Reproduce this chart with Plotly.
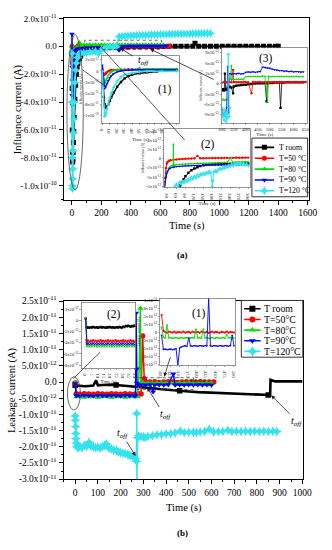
import numpy as np
import plotly.graph_objects as go

W, H = 332, 550
FONT = "Liberation Serif"

C_ROOM, C_50, C_80, C_90, C_120 = "#000000", "#ff0000", "#00dd00", "#0000ff", "#33e3ee"
COLORS = [C_ROOM, C_50, C_80, C_90, C_120]
SYMBOLS = ["square", "circle", "triangle-up", "triangle-down", "star-diamond"]
NAMES_A = ["T room", "T=50 °C", "T=80 °C", "T=90 °C", "T=120 °C"]
NAMES_B = ["T room", "T=50°C", "T=80°C", "T=90°C", "T=120°C"]

# ---------------- Panel (a) main : time (s), current in 1e-11 A ----------------
A_ROOM_T = [0, 1, 2, 3, 4, 5, 6, 8, 10, 12, 15, 20, 25, 30, 35, 40, 50, 60, 73, 84, 100, 130, 160, 200, 250, 300,
            340, 380, 420, 460, 500, 540, 580, 620, 660, 700, 740, 780, 820, 835, 860, 900, 940, 980, 1020, 1060,
            1100, 1140, 1180, 1220, 1260, 1300, 1340, 1380, 1400]
A_ROOM_V = [-0.5, -3.0, -6.0, -7.6, -8.2, -8.3, -8.1, -7.6, -6.9, -6.1, -5.1, -3.8, -2.8, -2.0, -1.5, -1.2, -0.9,
            -0.7, -0.5, -0.37, -0.26, -0.17, -0.12, -0.10, -0.09, -0.08, -0.05, -0.04, -0.03, -0.03, -0.02, -0.02,
            -0.01, -0.01, 0.0, 0.0, 0.0, 0.0, 0.0, 0.22, 0.0, 0.0, 0.0, 0.0, 0.0, 0.0, 0.0, 0.0, 0.0, 0.0, 0.0,
            0.0, 0.0, 0.0, 0.0]
A_50_T = [0, 1, 2, 3, 4, 5, 6, 8, 10, 12, 15, 20, 25, 30, 35, 40, 50, 60, 80, 100, 120, 140, 160, 180, 200, 220,
          240, 260, 280, 300, 320, 340, 360, 380, 400, 420, 440, 460, 480, 500, 520, 540, 560, 580, 600, 620, 640, 660]
A_50_V = [0.0, -0.6, -1.1, -1.25, -1.1, -0.9, -0.7, -0.45, -0.3, -0.22, -0.17, -0.15, -0.12, -0.1, -0.05, -0.02,
          -0.01, 0.0, 0.01, 0.0, 0.02, 0.01, 0.0, 0.01, 0.02, 0.0, 0.01, 0.01, 0.0, 0.02, 0.01, 0.0, 0.01, 0.02,
          0.01, 0.0, 0.01, 0.02, 0.01, 0.0, 0.01, 0.02, 0.01, 0.01, 0.0, 0.02, 0.01, 0.0]
A_80_T = [0, 1, 2, 3, 4, 5, 6, 8, 10, 12, 15, 20, 25, 30, 35, 40, 45, 50, 52, 55, 60, 80, 100, 120, 140, 160, 180,
          200, 220, 240, 260, 280, 300, 320, 340, 360, 380, 400, 420, 440, 460, 480, 500, 520, 540, 560, 580, 600, 620]
A_80_V = [0.0, -1.0, -2.3, -3.0, -2.8, -2.4, -2.0, -1.4, -0.9, -0.6, -0.35, -0.2, -0.15, -0.12, -0.1, -0.1, -0.1,
          0.28, -0.15, -0.08, 0.1, 0.11, 0.1, 0.12, 0.1, 0.11, 0.1, 0.12, 0.11, 0.1, 0.12, 0.1, 0.11, 0.1, 0.12,
          0.11, 0.1, 0.12, 0.1, 0.11, 0.1, 0.12, 0.11, 0.1, 0.12, 0.1, 0.11, 0.1, 0.12]
A_90_T = [0, 1, 2, 3, 4, 5, 6, 8, 10, 12, 15, 20, 25, 30, 35, 40, 50, 60, 80, 100, 120, 140, 160, 180, 200, 220,
          240, 260, 280, 300, 320, 340, 360, 380, 400, 420, 440, 460, 480, 500, 520, 540, 560, 580, 600, 620, 640]
A_90_V = [0.88, -1.5, -3.5, -4.2, -4.0, -3.6, -3.2, -2.5, -1.9, -1.5, -1.0, -0.6, -0.36, -0.28, -0.2, -0.17, -0.15,
          -0.14, -0.13, -0.12, -0.12, -0.11, -0.11, -0.1, -0.1, -0.1, -0.09, -0.09, -0.09, -0.08, -0.28,
          0.0, 0.01, 0.02, 0.02, 0.01, 0.02, 0.03, 0.03, 0.03, 0.02, 0.03, 0.02, 0.03, 0.02, 0.02, 0.03]
A_120_T = [0, 1, 2, 3, 4, 5, 6, 8, 10, 12, 15, 20, 25, 30, 40, 50, 60, 80, 100, 120, 140, 160, 180, 200, 220, 240,
           260, 280, 300, 320, 340, 360, 380, 400, 420, 440, 460, 480, 500, 520, 540, 560, 580, 600, 620, 640, 660,
           680, 700, 720, 740, 760, 780, 800, 820, 840, 860, 880, 900, 920, 940]
A_120_V = [-0.5, -4.0, -8.0, -10.2, -10.0, -9.5, -8.8, -7.5, -6.2, -5.2, -4.0, -2.6, -1.7, -1.2, -0.8, -0.6, -0.5,
           -0.48, -0.45, -0.42, -0.38, -0.36, -0.5, -0.25, -0.15, -0.1, -0.06, -0.04, -0.03,
           0.70, 0.72, 0.74, 0.75, 0.76, 0.77, 0.78, 0.79, 0.80, 0.81, 0.82, 0.83, 0.84, 0.84, 0.85, 0.86, 0.86,
           0.87, 0.88, 0.88, 0.89, 0.89, 0.90, 0.90, 0.91, 0.91, 0.92, 0.92, 0.92, 0.93, 0.93, 0.93]

# ---------------- Panel (a) inset (2): 1e-12 A ----------------
I2A_ROOM_T = [60, 65, 70, 73, 78, 84, 90, 100, 110, 120, 130, 140, 150, 160, 170, 180, 190, 200, 210, 220, 230,
              240, 250, 260, 270, 280, 290, 300]
I2A_ROOM_V = [-7.0, -6.2, -5.3, -4.8, -4.2, -3.7, -3.2, -2.55, -2.1, -1.8, -1.55, -1.35, -1.2, -1.12, -1.07, -1.03,
              -1.0, -0.98, -0.96, -0.95, -0.94, -0.93, -0.92, -0.91, -0.9, -0.9, -0.89, -0.88]
I2A_50_T = [20, 22, 25, 28, 30, 35, 40, 50, 60, 70, 80, 90, 100, 110, 120, 130, 140, 150, 160, 170, 180, 190, 200,
            210, 220, 230, 240, 250, 260, 270, 280, 290, 300]
I2A_50_V = [-5.5, -3.5, -1.7, -0.9, -0.6, -0.4, -0.3, -0.2, -0.15, -0.1, -0.05, -0.03, 0.0, 0.02, 0.04, 0.5, 0.06,
            0.07, 0.08, 0.09, 0.1, 0.1, 0.11, 0.12, 0.12, 0.13, 0.14, 0.14, 0.15, 0.15, 0.16, 0.17, 0.18]
I2A_80_T = [20, 25, 30, 35, 40, 45, 49, 50, 51, 55, 60, 70, 80, 90, 100, 110, 120, 130, 140, 150, 160, 170, 180,
            190, 200, 210, 220, 230, 239, 250, 260, 270, 280, 290, 300]
I2A_80_V = [-4.8, -3.2, -2.2, -1.7, -1.4, -1.25, -1.2, 2.6, -1.5, -1.15, -1.1, -1.05, -1.0, -0.98, -0.95, -0.93,
            -0.9, -0.88, -0.86, -0.84, -0.82, -0.8, -0.78, -0.76, -0.74, -0.72, -0.7, -0.68, 0.1, -0.64, -0.62,
            -0.6, -0.58, -0.56, -0.54]
I2A_90_T = [20, 22, 25, 28, 30, 35, 40, 50, 60, 70, 80, 90, 100, 110, 120, 130, 140, 150, 160, 170, 180, 190, 200,
            210, 220, 230, 240, 250, 260, 270, 280, 290, 300]
I2A_90_V = [-5.5, -4.2, -3.4, -2.6, -2.3, -1.9, -1.7, -1.55, -1.45, -1.4, -1.35, -1.3, -1.28, -1.26, -1.25, -1.23,
            -1.22, -1.2, -1.19, -1.18, -1.17, -1.16, -1.15, -1.15, -1.14, -1.13, -1.13, -1.12, -1.12, -1.11, -1.11,
            -1.1, -1.1]
I2A_120_T = [55, 60, 65, 70, 75, 80, 85, 90, 95, 100, 105, 110, 115, 120, 125, 130, 135, 140, 145, 150, 155, 160,
             165, 170, 175, 180, 182, 185, 190, 195, 200, 205, 210, 215, 220, 225, 230, 235, 240, 245, 250, 255,
             260, 265, 270, 275, 280, 285, 290, 295, 300]
I2A_120_V = [-5.0, -4.6, -4.9, -4.3, -4.6, -4.1, -4.4, -3.9, -4.2, -3.7, -3.9, -3.4, -3.7, -3.2, -3.5, -3.0, -3.3,
             -2.8, -3.0, -2.6, -2.9, -2.5, -2.7, -2.3, -2.6, -5.0, -4.0, -2.4, -2.2, -2.4, -2.0, -1.8, -2.0, -1.6,
             -1.8, -1.4, -1.6, -1.2, -1.4, -1.0, -1.3, -0.9, -1.1, -0.7, -1.0, -0.8, -1.1, -0.9, -1.2, -1.0, -1.3]

# ---------------- Panel (a) inset (3): 1e-13 A ----------------
I3A_ROOM_T = [300, 305, 310, 313, 316, 320, 325, 330, 333, 340, 347, 350, 360, 370, 380, 390, 400, 410, 420, 430,
              440, 450, 460, 470, 480, 487, 490, 500, 510, 520, 530, 540, 545, 550, 560, 570, 580, 590, 600, 610,
              620, 630, 640]
I3A_ROOM_V = [-1.9, -1.6, -2.0, 2.9, -1.5, -1.8, -1.2, -1.0, -0.9, -1.1, -2.8, -0.8, -0.6, -0.5, -0.4, -0.3, -0.3,
              -0.2, -0.1, 0.0, 0.0, 0.1, 0.1, 0.1, 0.2, -5.1, 0.2, 0.2, 0.2, 0.3, 0.3, 0.3, -7.0, 0.3, 0.3, 0.4,
              0.4, 0.4, 0.4, 0.4, 0.4, 0.4, 0.4]
I3A_50_T = [300, 310, 320, 330, 340, 347, 350, 360, 370, 380, 390, 400, 410, 424, 430, 440, 450, 460, 470, 480,
            490, 500, 510, 520, 530, 540, 550, 560, 570, 580, 590, 600, 610, 620, 630, 640, 650]
I3A_50_V = [0.3, 0.5, 0.4, 0.5, 0.4, 4.0, 0.5, 0.4, 0.5, 0.4, 0.5, 0.5, 0.4, -2.8, 0.5, 0.4, 0.5, 0.5, 0.4, 0.5,
            0.5, 0.4, 0.5, 0.5, 0.4, 0.5, 0.5, 0.4, 0.5, 0.5, 0.4, 0.5, 0.5, 0.4, 0.5, 0.5, 0.5]
I3A_80_T = [300, 305, 310, 315, 320, 325, 330, 335, 340, 343, 350, 360, 370, 380, 390, 400, 410, 420, 430, 440,
            450, 460, 470, 480, 491, 495, 500, 510, 520, 530, 540, 550, 560, 570, 580, 590, 600, 610, 620, 630, 640]
I3A_80_V = [-4.8, -4.5, -4.9, -4.6, -4.7, -4.4, 1.2, 1.3, 5.2, 1.2, 1.2, 1.3, 1.2, 1.3, 1.2, 2.0, 2.1, 2.0, 2.1,
            2.0, 2.1, 2.0, 2.2, 2.1, -5.4, 2.1, 2.0, 2.1, 2.0, 2.1, 2.0, 2.1, 2.0, 2.1, 2.0, 2.1, 2.0, 2.1, 2.0,
            2.1, 2.0]
I3A_90_T = [300, 305, 310, 315, 320, 325, 328, 330, 340, 350, 360, 370, 380, 390, 400, 410, 420, 430, 440, 450,
            460, 470, 480, 490, 500, 510, 520, 530, 540, 550, 560, 570, 580, 590, 600, 610, 620, 630, 640]
I3A_90_V = [-7.5, -9.0, -8.0, -9.5, -7.0, 5.0, -8.5, 2.9, 2.8, 2.9, 2.8, 3.0, 2.8, 2.9, 3.3, 3.4, 3.3, 3.4, 3.3,
            3.4, 3.5, 4.8, 4.7, 4.6, 4.5, 4.2, 4.0, 3.9, 3.8, 3.8, 3.6, 3.7, 3.5, 3.6, 3.4, 3.5, 3.4, 3.3, 3.4]
I3A_120_T = [300, 303, 306, 309, 312, 315, 318, 321, 324, 327, 330, 333]
I3A_120_V = [-7.0, -9.5, -8.0, -10.5, -7.5, -9.0, -11.0, -8.5, -10.0, 8.5, -9.5, -7.0]

# ---------------- Panel (b) main : 1e-12 A ----------------
B_ROOM_T = [0, 20, 40, 60, 80, 92, 100, 120, 140, 160, 180, 200, 220, 240, 260, 280, 300, 340, 380, 420, 460, 500,
            540, 580, 620, 660, 700, 740, 780, 820, 850, 858, 860, 880, 900, 920, 940, 960, 980, 1000]
B_ROOM_V = [-1.0, -1.2, -1.3, -1.2, -1.1, 0.5, -1.0, -0.9, -0.8, -0.8, -0.9, -1.0, -1.1, -1.2, -1.3, -1.5, -1.6,
            -1.9, -2.2, -2.5, -2.7, -2.9, -3.1, -3.2, -3.4, -3.5, -3.6, -3.7, -3.8, -3.9, -4.0, -4.0, 0.7, 0.2,
            0.2, 0.2, 0.2, 0.2, 0.2, 0.2]
B_50_T = [0, 5, 20, 40, 60, 80, 100, 120, 140, 160, 180, 200, 220, 240, 260, 280, 290, 297, 304, 310, 330, 350,
          370, 390, 410, 430, 450, 470, 490, 510, 530, 550, 570, 590, 610]
B_50_V = [-0.3, -3.6, -3.8, -3.6, -3.7, -3.8, -3.6, -3.7, -3.8, -3.6, -3.7, -3.8, -3.6, -3.7, -3.8, -3.6, -3.7,
          14.2, 1.0, 0.1, 0.0, 0.1, -0.1, 0.0, 0.1, 0.0, -0.1, 0.0, 0.1, 0.0, 0.0, 0.1, 0.0, 0.0, 0.0]
B_80_T = [0, 5, 20, 40, 60, 80, 100, 120, 140, 160, 180, 200, 220, 240, 260, 275, 282, 287, 290, 300, 320, 340,
          360, 380, 400, 420, 440, 460, 480, 500, 520, 540, 560, 580, 600]
B_80_V = [-0.2, -4.6, -4.5, -4.7, -4.6, -4.5, -4.7, -4.6, -4.5, -4.7, -4.6, -4.5, -4.7, -4.6, -4.5, -4.6, 4.2,
          22.8, -0.3, -0.2, -0.3, -0.2, -0.3, -0.2, -0.3, -0.2, -0.3, -0.2, -0.3, -0.2, -0.3, -0.2, -0.3, -0.2, -0.3]
B_90_T = [0, 5, 20, 40, 60, 80, 100, 120, 140, 160, 180, 200, 220, 240, 260, 266, 268, 270, 272, 276, 290, 310,
          330, 343, 350, 370, 390, 410, 432, 440, 460, 480, 500, 520, 540, 560, 580, 600]
B_90_V = [-0.5, -4.2, -4.3, -4.1, -4.2, -4.3, -4.1, -4.2, -4.3, -4.1, -4.2, -4.3, -4.1, -4.2, -4.3, -4.2, 21.3,
          4.0, -0.3, -0.9, -0.8, -0.9, -0.8, -3.0, -0.9, -0.8, -0.9, -0.8, 2.5, -0.9, -0.8, -0.9, -0.8, -0.9,
          -0.8, -0.9, -0.8, -0.9]
B_120_T = [0, 1, 2, 3, 4, 5, 8, 11, 15, 20, 30, 40, 50, 61, 70, 80, 90, 100, 110, 120, 130, 138, 150, 160, 170,
           181, 190, 200, 210, 220, 230, 237, 245, 255, 265, 270, 271, 272, 275, 280, 290, 300, 308, 320, 340, 360,
           380, 400, 420, 440, 463, 480, 500, 520, 534, 550, 570, 590, 610, 630, 650, 672, 690, 710, 730, 750, 770,
           790, 810, 830, 850, 870, 887]
B_120_V = [-10.5, -11.8, -13.7, -15.9, -17.5, -18.8, -19.8, -20.3, -20.0, -19.9, -20.3, -19.6, -19.9, -18.6,
           -19.8, -20.0, -20.3, -20.1, -20.4, -20.0, -19.5, -19.1, -20.5, -20.7, -21.0, -21.1, -21.5, -21.8, -22.0,
           -22.1, -22.3, -22.6, -22.8, -23.1, -23.6, -24.5, -9.7, -31.0, -17.2, -16.6, -16.9, -17.0, -17.1, -16.8,
           -16.6, -16.3, -16.2, -16.0, -15.9, -15.7, -15.1, -15.6, -15.5, -15.5, -15.6, -15.4, -15.3, -14.6, -15.4,
           -15.3, -15.3, -14.9, -15.3, -15.2, -15.3, -15.2, -15.3, -15.2, -15.3, -15.2, -15.3, -15.2, -15.3]

# ---------------- Panel (b) inset (2): 0-40 s, 1e-12 A ----------------
I2B_T = [0, 0.5, 1, 2, 3, 4, 5, 6, 7, 8, 9, 10, 11, 12, 13, 14, 15, 16, 17, 18, 19, 20, 21, 22, 23, 24, 25, 26,
         27, 28, 29, 30, 31, 32, 33, 34, 35, 36, 37, 38, 39, 40]
I2B_ROOM_V = [0.3, -1.2, -1.3, -1.25, -1.35, -1.2, -1.3, -1.15, -1.25, -1.3, -1.2, -1.35, -1.25, -1.15, -1.3, -1.2,
              -1.25, -1.35, -1.2, -1.3, -1.15, -1.25, -1.3, -1.2, -1.35, -1.25, -1.2, -1.3, -1.15, -1.25, -1.3,
              -1.1, -1.2, -1.0, -1.1, -0.95, -1.05, -1.15, -1.0, -1.1, -0.95, -1.0]
I2B_50_V = [0.4, -3.5, -3.8, -3.6, -3.85, -3.6, -3.8, -3.55, -3.8, -3.6, -3.85, -3.6, -3.8, -3.55, -3.8, -3.6,
            -3.85, -3.6, -3.8, -3.55, -3.8, -3.6, -3.85, -3.6, -3.8, -3.55, -3.8, -3.6, -3.85, -3.6, -3.8, -3.55,
            -3.8, -3.6, -3.85, -3.6, -3.8, -3.55, -3.8, -3.6, -3.85, -3.6]
I2B_80_V = [0.5, -4.4, -4.7, -4.5, -4.75, -4.5, -4.7, -4.45, -4.7, -4.5, -4.75, -4.5, -4.7, -4.45, -4.7, -4.5,
            -4.75, -4.5, -4.7, -4.45, -4.7, -4.5, -4.75, -4.5, -4.7, -4.45, -4.7, -4.5, -4.75, -4.5, -4.7, -4.45,
            -4.7, -4.5, -4.75, -4.5, -4.7, -4.45, -4.7, -4.5, -4.75, -4.5]
I2B_90_V = [0.2, -4.0, -4.3, -4.1, -4.35, -4.1, -4.3, -4.05, -4.3, -4.1, -4.35, -4.1, -4.3, -4.05, -4.3, -4.1,
            -4.35, -4.1, -4.3, -4.05, -4.3, -4.1, -4.35, -4.1, -4.3, -4.05, -4.3, -4.1, -4.35, -4.1, -4.3, -4.05,
            -4.3, -4.1, -4.35, -4.1, -4.3, -4.05, -4.3, -4.1, -4.35, -4.1]

# ---------------- Panel (b) inset (1): 300-500 s, 1e-12 A ----------------
I1B_T = [300, 305, 310, 315, 320, 325, 330, 335, 340, 345, 350, 355, 360, 365, 370, 375, 380, 385, 390, 395, 400,
         405, 410, 415, 420, 425, 430, 435, 440, 445, 450, 455, 460, 465, 470, 475, 480, 485, 490, 495, 500]
I1B_50_V = [5.4, 0.4, 0.1, -0.2, 0.2, 0.0, -0.1, 0.2, -0.2, 0.1, 0.0, -0.1, 0.2, -0.1, 0.0, 0.1, -0.2, 0.2, 0.0,
            -0.1, 0.1, -0.2, 0.2, 0.0, -0.1, 0.1, -0.2, 0.0, 0.2, -0.1, 0.1, 0.0, -0.2, 0.1, 0.0, -0.1, 0.2, -0.2,
            0.1, 0.0, -0.1]
I1B_80_V = [1.5, -1.6, -1.9, 2.3, -1.8, -1.7, -1.9, -1.8, -1.7, -1.9, -1.8, -1.7, -1.9, -1.8, -1.7, -1.9, -1.8,
            -1.7, -1.9, 1.0, -1.8, -1.7, -1.9, 1.0, -1.8, -1.7, -1.9, -1.8, -1.7, -1.9, -1.8, -1.7, -1.9, -1.8,
            -1.7, -1.9, -0.8, -1.8, -1.7, -1.9, -1.8]
I1B_90_V = [-1.0, -5.4, -5.3, -5.5, -5.4, -5.3, -5.5, -5.4, -5.2, -10.5, -4.9, -4.6, -4.4, -4.3, -4.4, -1.8, -4.3,
            -4.4, -4.2, -4.3, -4.4, -4.2, -4.3, -4.4, -4.2, -4.3, 11.0, -4.3, -4.4, -4.2, -4.3, -4.4, -4.2, -4.3,
            -4.4, -4.2, -4.3, -4.4, -4.2, -1.0, -4.3]

# ---------------- tick labels ----------------
A_YTICK_VALS = [2e-11, 0, -2e-11, -4e-11, -6e-11, -8e-11, -1e-10]
A_YTICK_TEXT = ["2.0x10<sup>-11</sup>", "0.0", "-2.0x10<sup>-11</sup>", "-4.0x10<sup>-11</sup>",
                "-6.0x10<sup>-11</sup>", "-8.0x10<sup>-11</sup>", "-1.0x10<sup>-10</sup>"]
B_YTICK_VALS = [2.5e-11, 2e-11, 1.5e-11, 1e-11, 5e-12, 0, -5e-12, -1e-11, -1.5e-11, -2e-11, -2.5e-11, -3e-11]
B_YTICK_TEXT = ["2.5x10<sup>-11</sup>", "2.0x10<sup>-11</sup>", "1.5x10<sup>-11</sup>", "1.0x10<sup>-11</sup>",
                "5.0x10<sup>-12</sup>", "0.0", "-5.0x10<sup>-12</sup>", "-1.0x10<sup>-11</sup>",
                "-1.5x10<sup>-11</sup>", "-2.0x10<sup>-11</sup>", "-2.5x10<sup>-11</sup>", "-3.0x10<sup>-11</sup>"]
I1A_YTICK_VALS = [2e-11, -0.4e-11, -2.8e-11, -5.2e-11, -7.6e-11, -1e-10]
I1A_YTICK_TEXT = ["2x10<sup>-11</sup>", "0", "-3x10<sup>-11</sup>", "-5x10<sup>-11</sup>",
                  "-8x10<sup>-11</sup>", "-1x10<sup>-10</sup>"]
I2A_YTICK_VALS = [5e-12, 3.333e-12, 1.667e-12, 0, -1.667e-12, -3.333e-12, -5e-12]
I2A_YTICK_TEXT = ["5x10<sup>-12</sup>", "3x10<sup>-12</sup>", "2x10<sup>-12</sup>", "0",
                  "-2x10<sup>-12</sup>", "-3x10<sup>-12</sup>", "-5x10<sup>-12</sup>"]
I3A_YTICK_VALS = [9e-13, 6e-13, 3e-13, 0, -3e-13, -6e-13, -9e-13]
I3A_YTICK_TEXT = ["9x10<sup>-13</sup>", "6x10<sup>-13</sup>", "3x10<sup>-13</sup>", "0",
                  "-3x10<sup>-13</sup>", "-6x10<sup>-13</sup>", "-9x10<sup>-13</sup>"]
I2B_YTICK_VALS = [2e-12, 0, -2e-12, -4e-12, -6e-12, -8e-12]
I2B_YTICK_TEXT = ["2x10<sup>-12</sup>", "0", "-2x10<sup>-12</sup>", "-4x10<sup>-12</sup>",
                  "-6x10<sup>-12</sup>", "-8x10<sup>-12</sup>"]
I1B_YTICK_VALS = [1e-11, 7.5e-12, 5e-12, 2.5e-12, 0, -2.5e-12, -5e-12, -7.5e-12, -1e-11]
I1B_YTICK_TEXT = ["1x10<sup>-11</sup>", "8x10<sup>-12</sup>", "5x10<sup>-12</sup>", "3x10<sup>-12</sup>", "0",
                  "-3x10<sup>-12</sup>", "-5x10<sup>-12</sup>", "-8x10<sup>-12</sup>", "-1x10<sup>-11</sup>"]

for t, v in [(A_ROOM_T, A_ROOM_V), (A_50_T, A_50_V), (A_80_T, A_80_V), (A_90_T, A_90_V), (A_120_T, A_120_V),
             (I2A_ROOM_T, I2A_ROOM_V), (I2A_50_T, I2A_50_V), (I2A_80_T, I2A_80_V), (I2A_90_T, I2A_90_V),
             (I2A_120_T, I2A_120_V), (I3A_ROOM_T, I3A_ROOM_V), (I3A_50_T, I3A_50_V), (I3A_80_T, I3A_80_V),
             (I3A_90_T, I3A_90_V), (I3A_120_T, I3A_120_V), (B_ROOM_T, B_ROOM_V), (B_50_T, B_50_V),
             (B_80_T, B_80_V), (B_90_T, B_90_V), (B_120_T, B_120_V), (I2B_T, I2B_ROOM_V), (I2B_T, I2B_50_V),
             (I2B_T, I2B_80_V), (I2B_T, I2B_90_V), (I1B_T, I1B_50_V), (I1B_T, I1B_80_V), (I1B_T, I1B_90_V)]:
    assert len(t) == len(v), (len(t), len(v), t[:3])

# ---------------- figure ----------------
fig = go.Figure()
layout = {}


def PX(x):
    return x / W


def PY(y):
    return 1 - y / H


def set_axes(n, box, xr, yr, xkw, ykw):
    x0, x1, y0, y1 = box
    xs = "" if n == 1 else str(n)
    layout["xaxis" + xs] = dict(domain=[PX(x0), PX(x1)], range=xr, anchor="y" + xs, autorange=False, **xkw)
    layout["yaxis" + xs] = dict(domain=[PY(y1), PY(y0)], range=yr, anchor="x" + xs, autorange=False, **ykw)


def main_ax(fs):
    return dict(showline=True, linecolor="black", linewidth=1, mirror=True, ticks="outside", ticklen=4,
                tickwidth=1, tickcolor="black", showgrid=False, zeroline=False,
                tickfont=dict(family=FONT, size=fs, color="black"))


def inset_ax(fs=5):
    return dict(showline=True, linecolor="#666", linewidth=0.7, mirror=True, ticks="outside", ticklen=1.5,
                tickwidth=0.6, tickcolor="#666", showgrid=False, zeroline=False,
                tickfont=dict(family=FONT, size=fs, color="#222"))


def leg_ax():
    return dict(visible=False, showgrid=False, zeroline=False, fixedrange=True)


def ttl(text, size):
    return dict(text=text, font=dict(family=FONT, size=size, color="#222"), standoff=1)


# (a) main
set_axes(1, (62, 317, 11.7, 197), [-57, 1606], [-1.1e-10, 2.0e-11],
         dict(main_ax(9.5), tickmode="linear", tick0=0, dtick=200,
              minor=dict(ticks="outside", ticklen=2, tickmode="linear", tick0=0, dtick=100, tickcolor="black")),
         dict(main_ax(9), tickmode="array", tickvals=A_YTICK_VALS, ticktext=A_YTICK_TEXT,
              minor=dict(ticks="outside", ticklen=2, tickmode="linear", tick0=0, dtick=1e-11, tickcolor="black")))
# (a) inset 1
set_axes(2, (101.7, 182.3, 50, 118.3), [-0.8, 103], [-1.16e-10, 2.85e-11],
         dict(inset_ax(5), tickmode="linear", tick0=0, dtick=10, title=ttl("Time (s)", 5)),
         dict(inset_ax(4.6), tickmode="array", tickvals=I1A_YTICK_VALS, ticktext=I1A_YTICK_TEXT,
              title=ttl("Influence current (A)", 3.6)))
# (a) inset 2
set_axes(3, (166.7, 256, 124.5, 184.3), [19, 306], [-5.18e-12, 5.39e-12],
         dict(inset_ax(5), tickmode="linear", tick0=30, dtick=30, title=ttl("Time (s)", 5)),
         dict(inset_ax(4.6), tickmode="array", tickvals=I2A_YTICK_VALS, ticktext=I2A_YTICK_TEXT,
              title=ttl("Influence current (A)", 3.6)))
# (a) inset 3
set_axes(4, (226.7, 316, 42, 118.3), [300, 658], [-11.3e-13, 10.3e-13],
         dict(inset_ax(5), tickmode="linear", tick0=300, dtick=50, title=ttl("Time (s)", 5)),
         dict(inset_ax(4.6), tickmode="array", tickvals=I3A_YTICK_VALS, ticktext=I3A_YTICK_TEXT,
              title=ttl("Influence current (A)", 3.6)))
# (a) legend box
set_axes(5, (258, 316, 134, 194), [258, 316], [194, 134], leg_ax(), leg_ax())
# (b) main
set_axes(6, (62, 311, 300.7, 482.7), [-51, 1002], [-3e-11, 2.5e-11],
         dict(main_ax(9.5), tickmode="linear", tick0=0, dtick=100,
              minor=dict(ticks="outside", ticklen=2, tickmode="linear", tick0=0, dtick=50, tickcolor="black")),
         dict(main_ax(9.5), tickmode="array", tickvals=B_YTICK_VALS, ticktext=B_YTICK_TEXT,
              minor=dict(ticks="outside", ticklen=2, tickmode="linear", tick0=0, dtick=2.5e-12, tickcolor="black")))
# (b) inset 2
set_axes(7, (80.7, 137, 302, 369), [-3.3, 40], [-8.5e-12, 3.2e-12],
         dict(inset_ax(4.6), tickmode="linear", tick0=0, dtick=5, title=ttl("Time (s)", 4.6)),
         dict(inset_ax(4.6), tickmode="array", tickvals=I2B_YTICK_VALS, ticktext=I2B_YTICK_TEXT))
# (b) inset 1
set_axes(8, (162.5, 240.5, 298, 366), [296, 503], [-10.3e-12, 10.6e-12],
         dict(inset_ax(4.8), tickmode="linear", tick0=300, dtick=25, title=ttl("Time (s)", 4.6)),
         dict(inset_ax(4.6), tickmode="array", tickvals=I1B_YTICK_VALS, ticktext=I1B_YTICK_TEXT,
              title=ttl("Leakage current (A)", 3.6)))
# (b) legend box
set_axes(9, (247, 311, 300, 358), [247, 311], [358, 300], leg_ax(), leg_ax())


def add(t, v, scale, i, ax, size, lw, **mk):
    xs = "" if ax == 1 else str(ax)
    fig.add_trace(go.Scatter(x=np.asarray(t, dtype=float), y=np.asarray(v, dtype=float) * scale,
                             mode="lines+markers", xaxis="x" + xs, yaxis="y" + xs, showlegend=False,
                             line=dict(color=COLORS[i], width=lw),
                             marker=dict(symbol=SYMBOLS[i], size=size, color=COLORS[i], line=dict(width=0), **mk)))


MAIN_A = [(A_ROOM_T, A_ROOM_V), (A_50_T, A_50_V), (A_80_T, A_80_V), (A_90_T, A_90_V), (A_120_T, A_120_V)]
# (a) main
for i, (t, v) in enumerate(MAIN_A):
    add(t, v, 1e-11, i, 1, 7 if i == 4 else 5, 1.6)
# (a) inset 1 : same records, first 100 s
for i, (t, v) in enumerate(MAIN_A):
    ta = np.asarray(t, dtype=float)
    keep = ta <= 100
    add(ta[keep], np.asarray(v)[keep], 1e-11, i, 2, 3 if i == 4 else 2.4, 1.4)
# (a) inset 2
for i, (t, v) in enumerate([(I2A_ROOM_T, I2A_ROOM_V), (I2A_50_T, I2A_50_V), (I2A_80_T, I2A_80_V),
                            (I2A_90_T, I2A_90_V), (I2A_120_T, I2A_120_V)]):
    add(t, v, 1e-12, i, 3, 3 if i == 4 else 2.4, 1.0)
# (a) inset 3
for i, (t, v) in enumerate([(I3A_ROOM_T, I3A_ROOM_V), (I3A_50_T, I3A_50_V), (I3A_80_T, I3A_80_V),
                            (I3A_90_T, I3A_90_V), (I3A_120_T, I3A_120_V)]):
    add(t, v, 1e-13, i, 4, 3 if i == 4 else 2.4, 0.8)
# (b) main
for i, (t, v) in enumerate([(B_ROOM_T, B_ROOM_V), (B_50_T, B_50_V), (B_80_T, B_80_V), (B_90_T, B_90_V),
                            (B_120_T, B_120_V)]):
    extra = dict(maxdisplayed=4) if i == 0 else {}
    add(t, v, 1e-12, i, 6, 7.5 if i == 4 else 5.5, 2.6 if i == 0 else 1.5, **extra)
# (b) inset 2
for i, v in enumerate([I2B_ROOM_V, I2B_50_V, I2B_80_V, I2B_90_V]):
    add(I2B_T, v, 1e-12, i, 7, 2.2, 0.9)
# (b) inset 1
for i, v in [(1, I1B_50_V), (2, I1B_80_V), (3, I1B_90_V)]:
    add(I1B_T, v, 1e-12, i, 8, 2.2, 0.9)

shapes = []
ann = []

# manual legends (sample line + marker + label) inside legend boxes
for axn, names, box, rows, xl, xm, xt, fs, ms in [
        (5, NAMES_A, (258, 134, 316, 194), [143.5, 154.6, 165.7, 176.8, 187.9], (261, 281), 271, 284, 7.8, 5),
        (9, NAMES_B, (247, 300, 311, 358), [308.5, 319.4, 330.3, 341.2, 352.1], (250, 267), 258.5, 269, 9.8, 6)]:
    shapes.append(dict(type="rect", xref="paper", yref="paper", x0=PX(box[0]), x1=PX(box[2]), y0=PY(box[3]),
                       y1=PY(box[1]), line=dict(color="#333", width=1)))
    for i, (name, yy) in enumerate(zip(names, rows)):
        fig.add_trace(go.Scatter(x=[xl[0], xl[1]], y=[yy, yy], mode="lines", xaxis=f"x{axn}", yaxis=f"y{axn}",
                                 showlegend=False, line=dict(color=COLORS[i], width=1.6)))
        fig.add_trace(go.Scatter(x=[xm], y=[yy], mode="markers", xaxis=f"x{axn}", yaxis=f"y{axn}",
                                 showlegend=False,
                                 marker=dict(symbol=SYMBOLS[i], size=ms + (2 if i == 4 else 0), color=COLORS[i])))
        ann.append(dict(x=PX(xt), y=PY(yy), xref="paper", yref="paper", text=name, showarrow=False,
                        xanchor="left", yanchor="middle", font=dict(family=FONT, size=fs, color="black")))


def text(x, y, s, size, **kw):
    ann.append(dict(x=PX(x), y=PY(y), xref="paper", yref="paper", text=s, showarrow=False,
                    xanchor="center", yanchor="middle",
                    font=dict(family=FONT, size=size, color="black"), **kw))


def arrow(tip, tail):
    ann.append(dict(x=PX(tip[0]), y=PY(tip[1]), xref="paper", yref="paper", text="", showarrow=True,
                    ax=tail[0] - tip[0], ay=tail[1] - tip[1], arrowhead=2, arrowsize=1, arrowwidth=0.8,
                    arrowcolor="#222"))


TOFF = "<i>t<sub>off</sub></i>"
# axis titles
text(14, 104, "Influence current (A)", 10.5, textangle=-90)
text(190, 224, "Time (s)", 10.5)
text(186, 254, "<b>(a)</b>", 9)
text(9, 392, "Leakage current (A)", 10.5, textangle=-90)
text(187, 512, "Time (s)", 10.5)
text(186, 538, "<b>(b)</b>", 9)
# panel labels
text(168, 84, "(1)", 11.5)
text(212, 141, "(2)", 11.5)
text(273, 53, "(3)", 11.5)
text(115, 314, "(2)", 11.5)
text(203, 313, "(1)", 11.5)
# t_off labels and arrows
text(145, 55, TOFF, 10)
arrow((121, 42), (135, 51))
arrow((152, 43), (217, 74))
text(168, 417, TOFF, 10)
arrow((149, 389), (162, 410))
text(123, 436, TOFF, 10)
arrow((137, 459), (127, 443))
text(304, 424, TOFF, 10)
arrow((278, 397), (298, 417))
arrow((166.7, 378), (173.3, 357))


def line(p0, p1, **kw):
    shapes.append(dict(type="line", xref="paper", yref="paper", x0=PX(p0[0]), y0=PY(p0[1]), x1=PX(p1[0]),
                       y1=PY(p1[1]), line=dict(color="#333", width=0.8, **kw)))


def rect(p0, p1, kind="rect", **kw):
    shapes.append(dict(type=kind, xref="paper", yref="paper", x0=PX(p0[0]), y0=PY(p1[1]), x1=PX(p1[0]),
                       y1=PY(p0[1]), line=dict(color="#444", width=0.8, **kw)))


rect((65.5, 28), (82.5, 187), kind="circle")
line((81.5, 64), (104, 80))
line((99, 39), (188, 136))
rect((84, 34), (164, 43.5), dash="dot")
rect((66, 378), (79.5, 412), kind="circle")
line((72, 380), (100, 353))
rect((138, 379), (197, 391), dash="dot")

layout["annotations"] = ann
fig.update_layout(**layout)
fig.update_layout(shapes=shapes, width=W, height=H, margin=dict(l=0, r=0, t=0, b=0, pad=0),
                  paper_bgcolor="white", plot_bgcolor="white", showlegend=False,
                  font=dict(family=FONT, color="black"))
fig.write_html("out.html", config={"displayModeBar": False, "staticPlot": True},
               post_script="document.body.style.margin='0';document.body.style.overflow='hidden';")
